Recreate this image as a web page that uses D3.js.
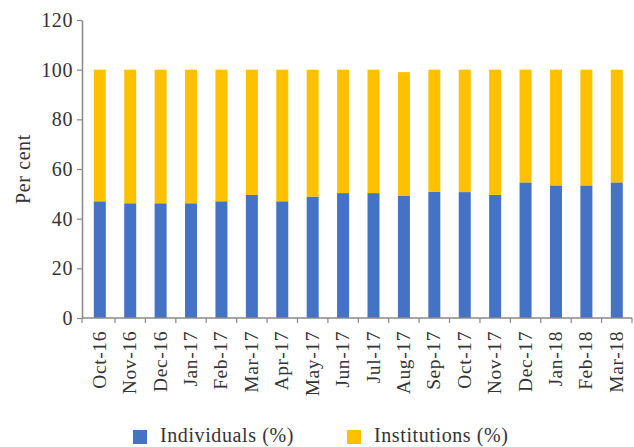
<!DOCTYPE html>
<html>
<head>
<meta charset="utf-8">
<script src="https://cdn.jsdelivr.net/npm/d3@7"></script>
<style>
  body { margin: 0; background: #fff; }
  text { font-family: "Liberation Serif", serif; fill: #333; letter-spacing: 0.6px; }
</style>
</head>
<body>
<div id="chart"></div>
<script>
// months on the x axis
var months = ["Oct-16", "Nov-16", "Dec-16", "Jan-17", "Feb-17", "Mar-17", "Apr-17", "May-17", "Jun-17",
    "Jul-17", "Aug-17", "Sep-17", "Oct-17", "Nov-17", "Dec-17", "Jan-18", "Feb-18", "Mar-18"];
// share of individuals and institutions (%)
var individuals = [47.0, 46.2, 46.2, 46.2, 47.0, 49.6, 47.0, 48.9, 50.3,
    50.3, 49.3, 50.8, 50.7, 49.6, 54.6, 53.4, 53.4, 54.6];
var institutions = [53.0, 53.8, 53.8, 53.8, 53.0, 50.4, 53.0, 51.1, 49.7,
    49.7, 49.7, 49.2, 49.3, 50.4, 45.4, 46.6, 46.6, 45.4];
var yTicks = [0, 20, 40, 60, 80, 100, 120];
var seriesNames = ["Individuals (%)", "Institutions (%)"];
var colors = ["#4472C4", "#FFC000"];

var width = 634, height = 447;

var svg = d3.select("#chart")
    .append("svg")
    .attr("width", width)
    .attr("height", height);

var x = d3.scaleBand()
    .domain(months)
    .range([84.6, 632])
    .padding(0);

var y = d3.scaleLinear()
    .domain([0, 120])
    .range([318, 20]);

var barW = 12;

// stacked data
var rows = months.map(function (m, i) {
    return {month: m, ind: individuals[i], inst: institutions[i]};
});
var stack = d3.stack().keys(["ind", "inst"])(rows);

svg.append("g")
    .selectAll("g")
    .data(stack)
    .enter().append("g")
    .attr("fill", function (d, i) { return colors[i]; })
    .selectAll("rect")
    .data(function (d) { return d; })
    .enter().append("rect")
    .attr("x", function (d) { return x(d.data.month) + x.bandwidth() / 2 - barW / 2; })
    .attr("width", barW)
    .attr("y", function (d) { return y(d[1]); })
    .attr("height", function (d) { return y(d[0]) - y(d[1]); });

// Y axis
var yAxis = svg.append("g")
    .attr("transform", "translate(82,0)")
    .call(d3.axisLeft(y).tickValues(yTicks).tickSize(5).tickSizeOuter(0).tickPadding(4));
yAxis.selectAll("text").style("font-size", "20px");

// X axis, ticks between the bars
var xAxis = svg.append("g")
    .attr("transform", "translate(0,318)");
xAxis.append("line")
    .attr("x1", 82).attr("x2", 632)
    .attr("stroke", "#888").attr("stroke-width", 1.5);
var bounds = months.map(function (m) { return x(m); }).slice(1);
bounds.push(82, x.range()[1]);
xAxis.selectAll("line.tick")
    .data(bounds)
    .enter().append("line")
    .attr("class", "tick")
    .attr("x1", function (d) { return d; })
    .attr("x2", function (d) { return d; })
    .attr("y1", 0).attr("y2", 5)
    .attr("stroke", "#888").attr("stroke-width", 1.2);
xAxis.selectAll("text")
    .data(months)
    .enter().append("text")
    .attr("transform", function (d) {
        return "translate(" + (x(d) + x.bandwidth() / 2 + 6) + ",13) rotate(-90)";
    })
    .attr("text-anchor", "end")
    .style("font-size", "19.5px")
    .text(function (d) { return d; });

yAxis.select(".domain").attr("stroke", "#888").attr("stroke-width", 1.5);
yAxis.selectAll(".tick line").attr("stroke", "#888").attr("stroke-width", 1.2);
yAxis.selectAll("text").style("fill", "#333");

// y label
svg.append("text")
    .attr("transform", "translate(30,169) rotate(-90)")
    .attr("text-anchor", "middle")
    .style("font-size", "20px")
    .text("Per cent");

// legend
var legendX = [133, 347];
seriesNames.forEach(function (name, i) {
    svg.append("rect")
        .attr("x", legendX[i]).attr("y", 430)
        .attr("width", 14).attr("height", 14)
        .attr("fill", colors[i]);
    svg.append("text")
        .attr("x", legendX[i] + 27).attr("y", 442)
        .style("font-size", "20px")
        .text(name);
});
</script>
</body>
</html>
